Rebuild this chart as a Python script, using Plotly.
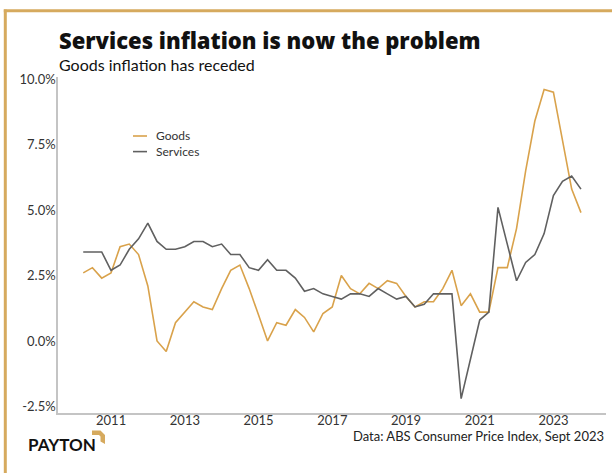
import pandas as pd
import plotly.graph_objects as go

# Quarterly CPI, annual % change (Mar 2010 - Sep 2023)
quarters = pd.period_range("2010Q1", periods=55, freq="Q").to_timestamp(how="end").normalize()

goods = [2.6, 2.8, 2.4, 2.6, 3.6, 3.7, 3.3, 2.1, 0.0, -0.4,
         0.7, 1.1, 1.5, 1.3, 1.2, 2.0, 2.7, 2.9, 2.0, 1.0,
         0.0, 0.7, 0.6, 1.2, 0.9, 0.35, 1.05, 1.3, 2.5, 2.0,
         1.8, 2.2, 2.0, 2.3, 2.2, 1.7, 1.3, 1.5, 1.5, 2.0,
         2.7, 1.35, 1.8, 1.1, 1.1, 2.8, 2.8, 4.3, 6.5, 8.4,
         9.6, 9.5, 7.7, 5.8, 4.9]

services = [3.4, 3.4, 3.4, 2.7, 2.9, 3.5, 3.9, 4.5, 3.8, 3.5,
            3.5, 3.6, 3.8, 3.8, 3.6, 3.7, 3.3, 3.3, 2.8, 2.7,
            3.1, 2.7, 2.7, 2.4, 1.9, 2.0, 1.8, 1.7, 1.6, 1.8,
            1.8, 1.7, 2.0, 1.8, 1.6, 1.7, 1.3, 1.4, 1.8, 1.8,
            1.8, -2.2, -0.65, 0.8, 1.1, 5.1, 3.7, 2.3, 3.0, 3.3,
            4.1, 5.55, 6.1, 6.3, 5.8]

year_ticks = [2011, 2013, 2015, 2017, 2019, 2021, 2023]
pct_ticks = [-2.5, 0.0, 2.5, 5.0, 7.5, 10.0]
series_names = ["Goods", "Services"]

GOLD = "#D9A24B"
GREY = "#606060"
FRAME = "#D6AA5E"
FONT = "Lato"

W, H = 612, 473
ML, MR, MT, MB = 58, 6, 77, 60
PW, PH = W - ML - MR, H - MT - MB


def px(x):
    return (x - ML) / PW


def py(y):
    return (H - MB - y) / PH


fig = go.Figure()
fig.add_trace(go.Scatter(x=quarters, y=goods, mode="lines", name=series_names[0],
                         line=dict(color=GOLD, width=1.6)))
fig.add_trace(go.Scatter(x=quarters, y=services, mode="lines", name=series_names[1],
                         line=dict(color=GREY, width=1.6)))

fig.update_layout(
    width=W, height=H,
    margin=dict(l=ML, r=MR, t=MT, b=MB, pad=0),
    paper_bgcolor="white", plot_bgcolor="white",
    showlegend=False,
    font=dict(family=FONT, size=13, color="#333333"),
)

fig.update_xaxes(
    type="date",
    range=["2009-07-24", "2024-06-04"],
    tickvals=[f"{y}-01-01" for y in year_ticks],
    ticktext=[str(y) for y in year_ticks],
    ticks="", showgrid=False, zeroline=False,
    showline=True, linecolor="#C4C4C4", linewidth=1.5,
    tickfont=dict(family=FONT, size=13, color="#333333"),
    ticklabelstandoff=-5,
)
fig.update_yaxes(
    range=[-2.75, 10.08],
    tickvals=pct_ticks,
    ticktext=[f"{v:.1f}%" for v in pct_ticks],
    ticks="", showgrid=False, zeroline=False,
    showline=True, linecolor="#C4C4C4", linewidth=1.5,
    tickfont=dict(family=FONT, size=13, color="#333333"),
    ticklabelstandoff=-2,
)

ann = []
ann.append(dict(text="Services inflation is now the problem",
                x=px(57), y=py(40), xref="paper", yref="paper",
                xanchor="left", yanchor="middle", showarrow=False,
                font=dict(family="Open Sans", size=22, weight=800, color="#111111")))
ann.append(dict(text="Goods inflation has receded",
                x=px(57), y=py(65), xref="paper", yref="paper",
                xanchor="left", yanchor="middle", showarrow=False,
                font=dict(family=FONT, size=16, color="#111111")))
ann.append(dict(text="Data: ABS Consumer Price Index, Sept 2023",
                x=px(606), y=py(436), xref="paper", yref="paper",
                xanchor="right", yanchor="middle", showarrow=False,
                font=dict(family=FONT, size=13, color="#222222")))
ann.append(dict(text="<b>PAYTON</b>",
                x=px(26), y=py(444.5), xref="paper", yref="paper",
                xanchor="left", yanchor="middle", showarrow=False,
                font=dict(family=FONT, size=17, color="#111111")))

# legend: line samples plus a two-line label block
shapes = []
LEG_Y = [136, 151.6]
for color, yy in zip([GOLD, GREY], LEG_Y):
    shapes.append(dict(type="line", xref="paper", yref="paper",
                       x0=px(133), x1=px(147), y0=py(yy), y1=py(yy),
                       line=dict(color=color, width=1.6)))
ann.append(dict(text="<br>".join(series_names), x=px(154), y=py(sum(LEG_Y) / 2),
                xref="paper", yref="paper", align="left",
                xanchor="left", yanchor="middle", showarrow=False,
                font=dict(family=FONT, size=12, color="#333333")))

# frame along left and top edges
shapes.append(dict(type="line", xref="paper", yref="paper",
                   x0=px(5.3), x1=px(5.3), y0=py(9.5), y1=py(480),
                   line=dict(color=FRAME, width=3)))
shapes.append(dict(type="line", xref="paper", yref="paper",
                   x0=px(3.8), x1=px(620), y0=py(10.8), y1=py(10.8),
                   line=dict(color=FRAME, width=3)))

# logo corner mark
pts = [(92, 430.5), (100.5, 430.5), (105, 435), (105, 444), (100.5, 441.5),
       (100.5, 436.5), (99, 435), (92, 435)]
path = "M " + " L ".join(f"{px(a):.5f},{py(b):.5f}" for a, b in pts) + " Z"
shapes.append(dict(type="path", xref="paper", yref="paper", path=path,
                   fillcolor=FRAME, line=dict(width=0)))

fig.update_layout(annotations=ann, shapes=shapes)
fig.write_html("out.html")
